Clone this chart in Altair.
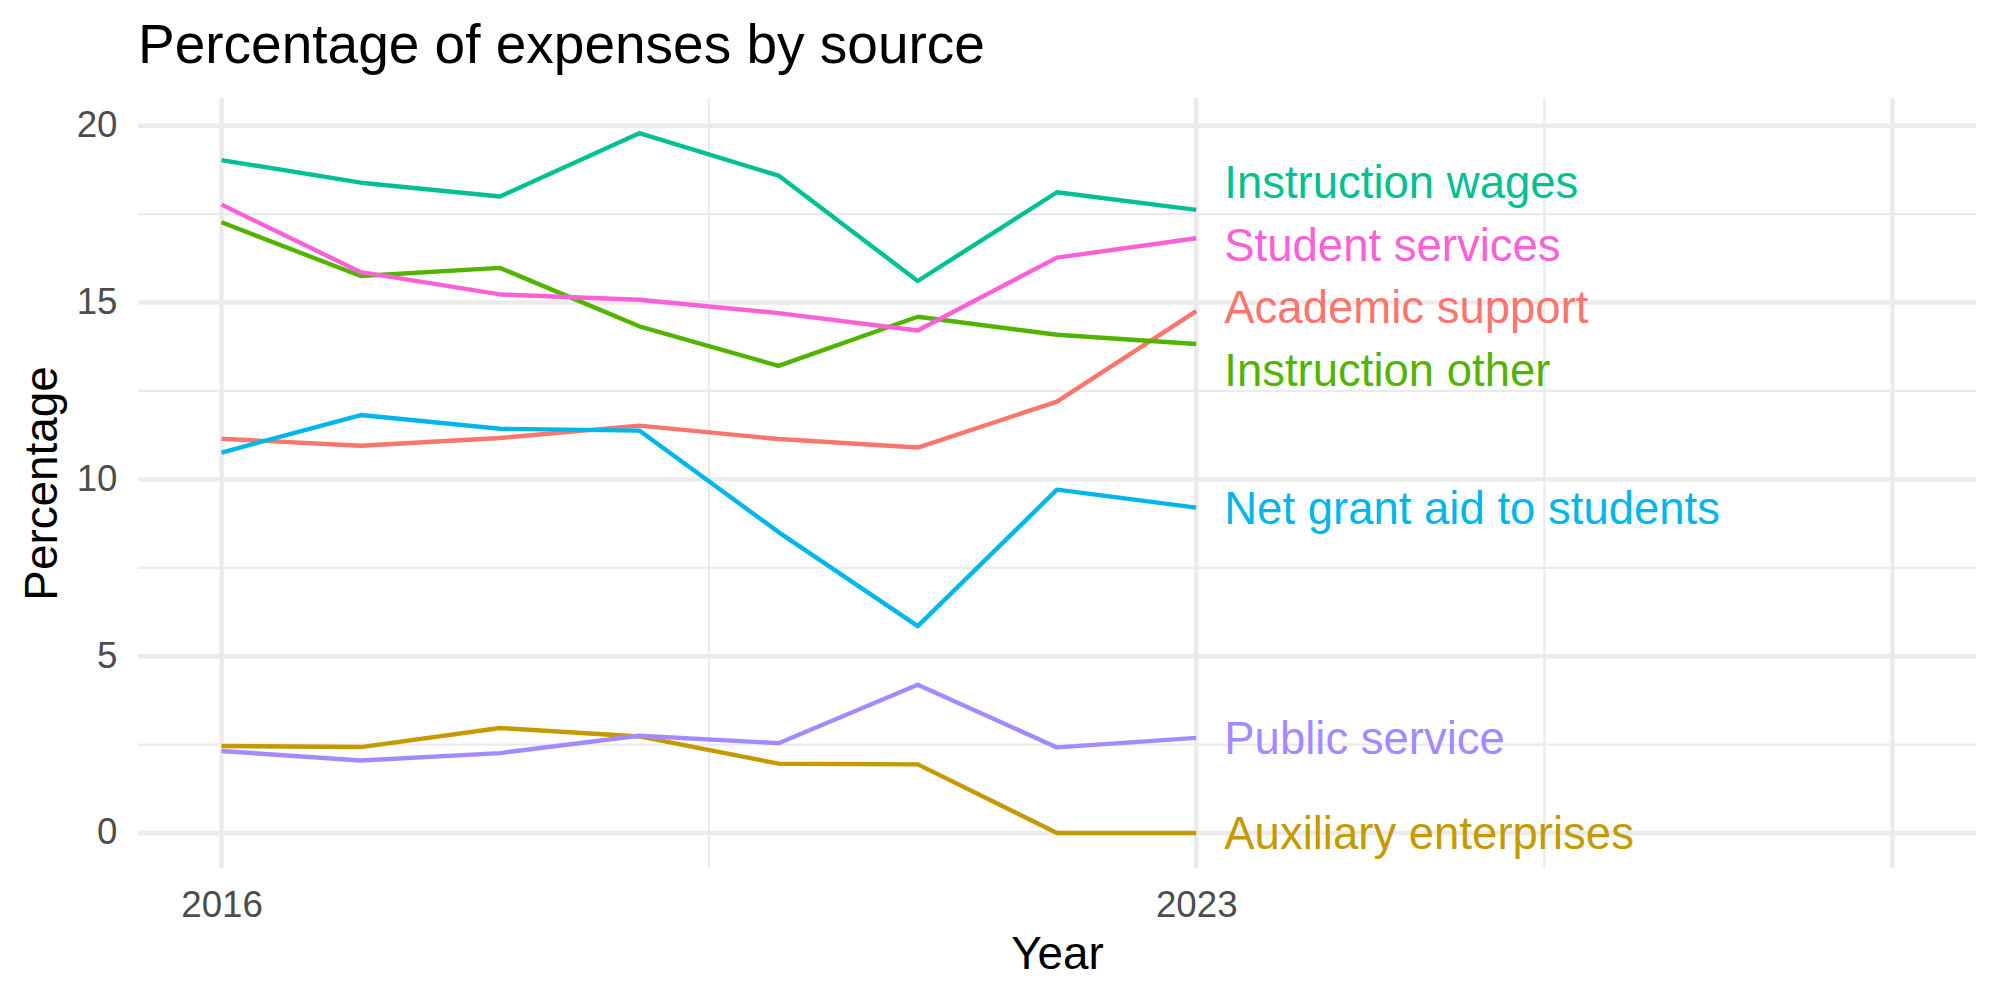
import altair as alt
import pandas as pd

# Share of total expenses (%) by expense category, 2016-2023
years = [2016, 2017, 2018, 2019, 2020, 2021, 2022, 2023]

sources = [
    "Academic support",
    "Auxiliary enterprises",
    "Instruction other",
    "Instruction wages",
    "Net grant aid to students",
    "Public service",
    "Student services",
]

academic_support = [11.15, 10.95, 11.17, 11.52, 11.14, 10.90, 12.20, 14.76]
auxiliary_enterprises = [2.46, 2.43, 2.97, 2.73, 1.96, 1.94, 0.00, 0.00]
instruction_other = [17.27, 15.75, 15.98, 14.33, 13.21, 14.60, 14.09, 13.83]
instruction_wages = [19.03, 18.39, 18.00, 19.79, 18.59, 15.61, 18.12, 17.62]
net_grant_aid = [10.76, 11.82, 11.43, 11.38, 8.51, 5.85, 9.71, 9.20]
public_service = [2.32, 2.05, 2.26, 2.75, 2.54, 4.19, 2.42, 2.69]
student_services = [17.77, 15.86, 15.23, 15.08, 14.70, 14.21, 16.27, 16.82]

palette = ["#F8766D", "#C49A00", "#53B400", "#00C094", "#00B6EB", "#A58AFF", "#FB61D7"]

series = [
    academic_support,
    auxiliary_enterprises,
    instruction_other,
    instruction_wages,
    net_grant_aid,
    public_service,
    student_services,
]

# axis breaks
x_labelled = [2016, 2023]
x_major = [2016, 2023, 2028]
x_minor = [2019.5, 2025.5]
y_major = [0, 5, 10, 15, 20]
y_minor = [2.5, 7.5, 12.5, 17.5]

long = pd.DataFrame(
    [
        {"Year": y, "Percentage": v, "source": s}
        for s, vals in zip(sources, series)
        for y, v in zip(years, vals)
    ]
)


def spread_labels(values, gap):
    """Push end labels apart so none sit closer than `gap`, keeping each
    clash group centred on the mean of its values."""
    order = sorted(range(len(values)), key=lambda i: -values[i])
    groups = []

    def centre(g):
        return sum(values[i] for i in g) / len(g)

    for i in order:
        groups.append([i])
        while len(groups) > 1:
            a, b = groups[-2], groups[-1]
            bottom_a = centre(a) - gap * (len(a) - 1) / 2
            top_b = centre(b) + gap * (len(b) - 1) / 2
            if bottom_a - top_b < gap:
                groups[-2] = a + b
                groups.pop()
            else:
                break
    pos = [0.0] * len(values)
    for g in groups:
        c = centre(g)
        n = len(g)
        for k, i in enumerate(g):
            pos[i] = c + gap * ((n - 1) / 2 - k)
    return pos


last_values = [vals[-1] for vals in series]
label_y = spread_labels(last_values, 1.77)
labels = pd.DataFrame(
    {"Year": [years[-1]] * len(sources), "Percentage": label_y, "source": sources}
)

FONT = "Liberation Sans"
GRID = "#EBEBEB"
x_scale = alt.Scale(domain=[2015.4, 2028.6], nice=False, zero=False)
y_scale = alt.Scale(domain=[-0.99, 20.785], nice=False, zero=False)
color_scale = alt.Scale(domain=sources, range=palette)

x_axis = alt.Axis(
    values=x_labelled,
    format="d",
    grid=False,
    ticks=False,
    tickSize=0,
    domain=False,
    labelFont=FONT,
    labelFontSize=36.7,
    labelColor="#4D4D4D",
    labelPadding=48,
    labelBaseline="alphabetic",
    titleFont=FONT,
    titleFontSize=45.8,
    titleFontWeight="normal",
    titleColor="#000000",
    titleBaseline="alphabetic",
    titleY=100,
)
y_axis = alt.Axis(
    values=y_major,
    grid=False,
    ticks=False,
    tickSize=0,
    domain=False,
    labelFont=FONT,
    labelFontSize=36.7,
    labelColor="#4D4D4D",
    labelPadding=21,
    labelBaseline="middle",
    titleFont=FONT,
    titleFontSize=45.8,
    titleFontWeight="normal",
    titleColor="#000000",
    titleBaseline="alphabetic",
    titleAngle=270,
    titleX=-82,
    titleY=385,
    titleAlign="center",
)


def X(field):
    return alt.X(field, scale=x_scale, axis=x_axis, title="Year")


def Y(field):
    return alt.Y(field, scale=y_scale, axis=y_axis, title="Percentage")


def grid(values, channel, width):
    df = pd.DataFrame({"Year": values, "Percentage": values})
    mark = alt.Chart(df).mark_rule(color=GRID, strokeWidth=width)
    if channel == "x":
        return mark.encode(x=X("Year:Q"))
    return mark.encode(y=Y("Percentage:Q"))


lines = (
    alt.Chart(long)
    .mark_line(strokeWidth=4.4, strokeCap="butt", strokeJoin="round")
    .encode(
        x=X("Year:Q"),
        y=Y("Percentage:Q"),
        color=alt.Color("source:N", scale=color_scale, legend=None),
    )
)

end_labels = (
    alt.Chart(labels)
    .mark_text(
        align="left",
        baseline="alphabetic",
        dx=28,
        dy=16.3,
        font=FONT,
        fontSize=45.5,
    )
    .encode(
        x=X("Year:Q"),
        y=Y("Percentage:Q"),
        text="source:N",
        color=alt.Color("source:N", scale=color_scale, legend=None),
    )
)

chart = (
    alt.layer(
        grid(y_minor, "y", 2.2),
        grid(x_minor, "x", 2.2),
        grid(y_major, "y", 4.4),
        grid(x_major, "x", 4.4),
        lines,
        end_labels,
    )
    .properties(
        width=1838,
        height=770,
        autosize=alt.AutoSizeParams(type="none"),
        padding={"left": 138, "top": 98, "right": 24, "bottom": 132},
        background="white",
        title=alt.TitleParams(
            "Percentage of expenses by source",
            anchor="start",
            frame="group",
            font=FONT,
            fontSize=55,
            fontWeight="normal",
            color="#000000",
            baseline="alphabetic",
            offset=35,
            dy=57,
        ),
    )
    .configure_view(stroke=None)
)

chart.save("out.html", embed_options={"renderer": "svg", "actions": False})
